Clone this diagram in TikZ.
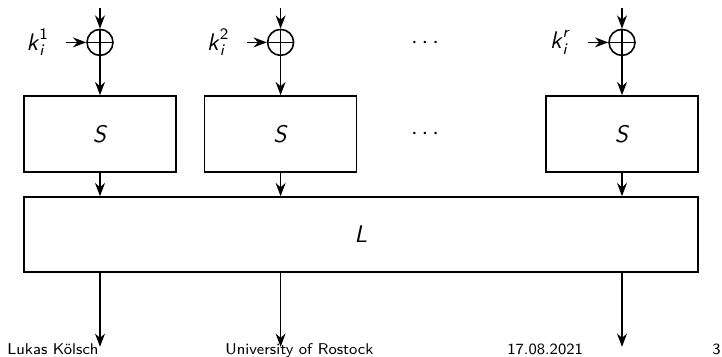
\documentclass[tikz,border=0pt]{standalone}
\usepackage{amsmath}
\usetikzlibrary{arrows.meta,positioning,calc}
\newcommand{\mv}[1]{\textsf{\textit{#1}}}

\begin{document}
\begin{tikzpicture}[
  x=0.5pt, y=-0.5pt,
  font=\sffamily\fontsize{12}{14}\selectfont,
  sbox/.style={draw, thick, minimum width=76pt, minimum height=38pt, inner sep=0pt},
  lbox/.style={draw, thick, minimum width=337pt, minimum height=37.5pt, inner sep=0pt},
  xor/.style={draw, thick, circle, minimum size=13pt, inner sep=0pt,
    path picture={\draw[thick] (path picture bounding box.north) -- (path picture bounding box.south)
      (path picture bounding box.west) -- (path picture bounding box.east);}},
  key/.style={inner ysep=0pt, inner xsep=8.5pt},
  arr/.style={-{Stealth}, thick},
  foot/.style={font=\sffamily\fontsize{7.8}{9}\selectfont, anchor=base west, inner sep=0pt}
]
\useasboundingbox (0,0) rectangle (722,357);
% S-boxes
\node[sbox] (s1) at (100,134) {$\mv{S}$};
\node[sbox, right=13.5pt of s1] (s2) {$\mv{S}$};
\node[sbox] (s3) at (622,134) {$\mv{S}$};
\node (sdots) at (427,134) {$\cdots$};
% linear layer
\node[lbox] (L) at (361,234.5) {$\mv{L}$};
% key addition
\node[xor, above=19.5pt of s1] (x1) {};
\node[xor, above=19.5pt of s2] (x2) {};
\node[xor, above=19.5pt of s3] (x3) {};
\node (kdots) at (427,43) {$\cdots$};
\node[key, left=10pt of x1] (k1) {$\mv{k}_{\mv{i}}^{\textsf{1}}$};
\node[key, left=10pt of x2] (k2) {$\mv{k}_{\mv{i}}^{\textsf{2}}$};
\node[key, left=10pt of x3] (k3) {$\mv{k}_{\mv{i}}^{\mv{r}}$};
\coordinate[above=10.5pt of x1] (in1);
\coordinate[above=10.5pt of x2] (in2);
\coordinate[above=10.5pt of x3] (in3);
\coordinate (out1) at ($(L.south -| s1)+(0,-37pt)$);
\coordinate (out2) at ($(L.south -| s2)+(0,-37pt)$);
\coordinate (out3) at ($(L.south -| s3)+(0,-37pt)$);
% footer
\node[foot] (author) at (7,355) {Lukas Kölsch};
\node[foot] (uni) at (225,355) {University of Rostock};
\node[foot] (date) at (507,355) {17.08.2021};
\node[foot] (page) at (712,355) {3};
% arrows
\draw[arr] (in1) -- (x1);
\draw[arr] (in2) -- (x2);
\draw[arr] (in3) -- (x3);
\draw[arr] (k1) -- (x1);
\draw[arr] (k2) -- (x2);
\draw[arr] (k3) -- (x3);
\draw[arr] (x1) -- (s1);
\draw[arr] (x2) -- (s2);
\draw[arr] (x3) -- (s3);
\draw[arr] (s1) -- (s1 |- L.north);
\draw[arr] (s2) -- (s2 |- L.north);
\draw[arr] (s3) -- (s3 |- L.north);
\draw[arr] (L.south -| s1) -- (out1);
\draw[arr] (L.south -| s2) -- (out2);
\draw[arr] (L.south -| s3) -- (out3);
\end{tikzpicture}
\end{document}
